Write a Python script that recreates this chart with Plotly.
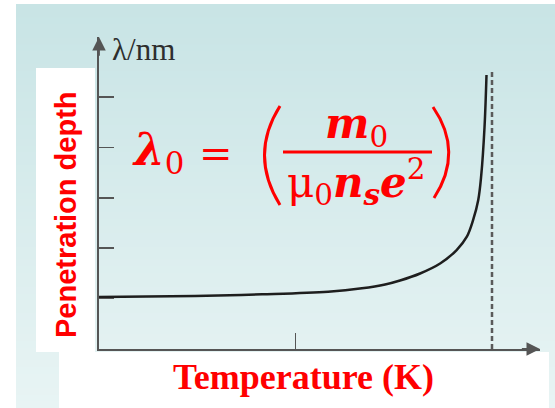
import plotly.graph_objects as go

# ---- data (T in units of Tc, lambda in tick units) ----
T_vals = [0.0, 0.244, 0.415, 0.583, 0.669, 0.728, 0.766, 0.817, 0.868, 0.910, 0.936, 0.952, 0.965, 0.9725, 0.981, 0.986]
lam_vals = [1.032, 1.052, 1.085, 1.137, 1.204, 1.280, 1.359, 1.498, 1.696, 1.964, 2.228, 2.560, 2.956, 3.433, 4.405, 5.437]
Tc_line_T = [1.0, 1.0]
Tc_line_lam = [0.0, 5.5]
y_ticks = [1, 2, 3, 4, 5]
x_ticks = [0.5]

W, H = 555, 408
L, R, T, B = 99, 540, 37, 349  # plot area pixels


def px(x):
    return (x - L) / (R - L)


def py(y):
    return (B - y) / (B - T)


XMAX = (R - L) / 393.0
YMAX = (B - T) / 50.4

fig = go.Figure()
fig.add_trace(go.Scatter(x=T_vals, y=lam_vals, mode="lines",
                         line=dict(color="#1e1e1e", width=2.5, shape="spline", smoothing=1.0),
                         hoverinfo="skip", showlegend=False))
fig.add_trace(go.Scatter(x=Tc_line_T, y=Tc_line_lam, mode="lines",
                         line=dict(color="#5a5a5a", width=2.5, dash="5px,3px"),
                         hoverinfo="skip", showlegend=False))

shapes = []
# background gradient
N = 60
top_c = (200, 228, 229)
bot_c = (232, 244, 244)
for i in range(N):
    y0 = 4 + (408 - 4) * i / N
    y1 = 4 + (408 - 4) * (i + 1) / N + 0.8
    f = i / (N - 1)
    c = tuple(int(round(top_c[k] + (bot_c[k] - top_c[k]) * f)) for k in range(3))
    shapes.append(dict(type="rect", xref="paper", yref="paper", layer="below",
                       x0=px(16), x1=px(555), y0=py(y0), y1=py(y1),
                       fillcolor="rgb(%d,%d,%d)" % c, line=dict(width=0)))
# white label boxes
shapes.append(dict(type="rect", xref="paper", yref="paper", layer="below",
                   x0=px(36), x1=px(95), y0=py(68), y1=py(352),
                   fillcolor="white", line=dict(width=0)))
shapes.append(dict(type="rect", xref="paper", yref="paper", layer="below",
                   x0=px(59), x1=px(549), y0=py(352), y1=py(408),
                   fillcolor="white", line=dict(width=0)))
# fraction bar
shapes.append(dict(type="line", xref="paper", yref="paper",
                   x0=px(283), x1=px(432), y0=py(152), y1=py(152),
                   line=dict(color="#ff0000", width=3)))
# parentheses
shapes.append(dict(type="path", xref="paper", yref="paper",
                   path="M %f,%f Q %f,%f %f,%f" % (px(280), py(106), px(249), py(155), px(280), py(205)),
                   line=dict(color="#ff0000", width=3)))
shapes.append(dict(type="path", xref="paper", yref="paper",
                   path="M %f,%f Q %f,%f %f,%f" % (px(433), py(107), px(464), py(152), px(434), py(198)),
                   line=dict(color="#ff0000", width=3)))

RED = "#ff0000"
ann = []
# axis arrowheads
ann.append(dict(x=0, y=YMAX, ax=0, ay=YMAX - 0.4, xref="x", yref="y", axref="x", ayref="y",
                showarrow=True, arrowhead=2, arrowsize=1.5, arrowwidth=1.8, arrowcolor="#555555", text=""))
ann.append(dict(x=XMAX, y=0, ax=XMAX - 0.05, ay=0, xref="x", yref="y", axref="x", ayref="y",
                showarrow=True, arrowhead=2, arrowsize=1.5, arrowwidth=1.8, arrowcolor="#555555", text=""))
# axis unit label
ann.append(dict(x=px(110), y=py(50), xref="paper", yref="paper", xanchor="left", yanchor="middle",
                text="λ/nm", showarrow=False,
                font=dict(family="Liberation Serif", size=31, color="#2e2e2e")))
# labels
ann.append(dict(x=px(66), y=py(215), xref="paper", yref="paper", xanchor="center", yanchor="middle",
                text="<b>Penetration depth</b>", textangle=-90, showarrow=False,
                font=dict(family="Liberation Sans", size=29, color=RED)))
ann.append(dict(x=px(303), y=py(377), xref="paper", yref="paper", xanchor="center", yanchor="middle",
                text="<b>Temperature (K)</b>", showarrow=False,
                font=dict(family="Liberation Serif", size=36, color=RED)))
# formula
FF = "DejaVu Serif"
ann.append(dict(x=px(158), y=py(152), xref="paper", yref="paper", xanchor="center", yanchor="middle",
                text="<b><i>λ</i></b><sub>0</sub>", showarrow=False,
                font=dict(family=FF, size=44, color=RED)))
ann.append(dict(x=px(216), y=py(153), xref="paper", yref="paper", xanchor="center", yanchor="middle",
                text="=", showarrow=False,
                font=dict(family=FF, size=40, color=RED)))
ann.append(dict(x=px(356), y=py(127), xref="paper", yref="paper", xanchor="center", yanchor="middle",
                text="<b><i>m</i></b><sub>0</sub>", showarrow=False,
                font=dict(family=FF, size=42, color=RED)))
ann.append(dict(x=px(356), y=py(182), xref="paper", yref="paper", xanchor="center", yanchor="middle",
                text="μ<sub>0</sub><b><i>n</i></b><sub><b><i>s</i></b></sub><b><i>e</i></b><sup>2</sup>",
                showarrow=False, font=dict(family=FF, size=42, color=RED)))

fig.update_layout(
    width=W, height=H,
    margin=dict(l=L, r=W - R, t=T, b=H - B, pad=0),
    paper_bgcolor="white", plot_bgcolor="rgba(0,0,0,0)",
    shapes=shapes, annotations=ann, showlegend=False,
    xaxis=dict(range=[0, XMAX], showgrid=False, zeroline=False, showline=True,
               linecolor="#555555", linewidth=2, ticks="inside", ticklen=16, tickwidth=1.5,
               tickcolor="#555555", tickvals=x_ticks, showticklabels=False, fixedrange=True),
    yaxis=dict(range=[0, YMAX], showgrid=False, zeroline=False, showline=True,
               linecolor="#555555", linewidth=2, ticks="inside", ticklen=15, tickwidth=1.5,
               tickcolor="#555555", tickvals=y_ticks, showticklabels=False, fixedrange=True),
)

fig.write_html("out.html", config={"staticPlot": True},
               post_script="document.body.style.margin='0';document.body.style.overflow='hidden';")
